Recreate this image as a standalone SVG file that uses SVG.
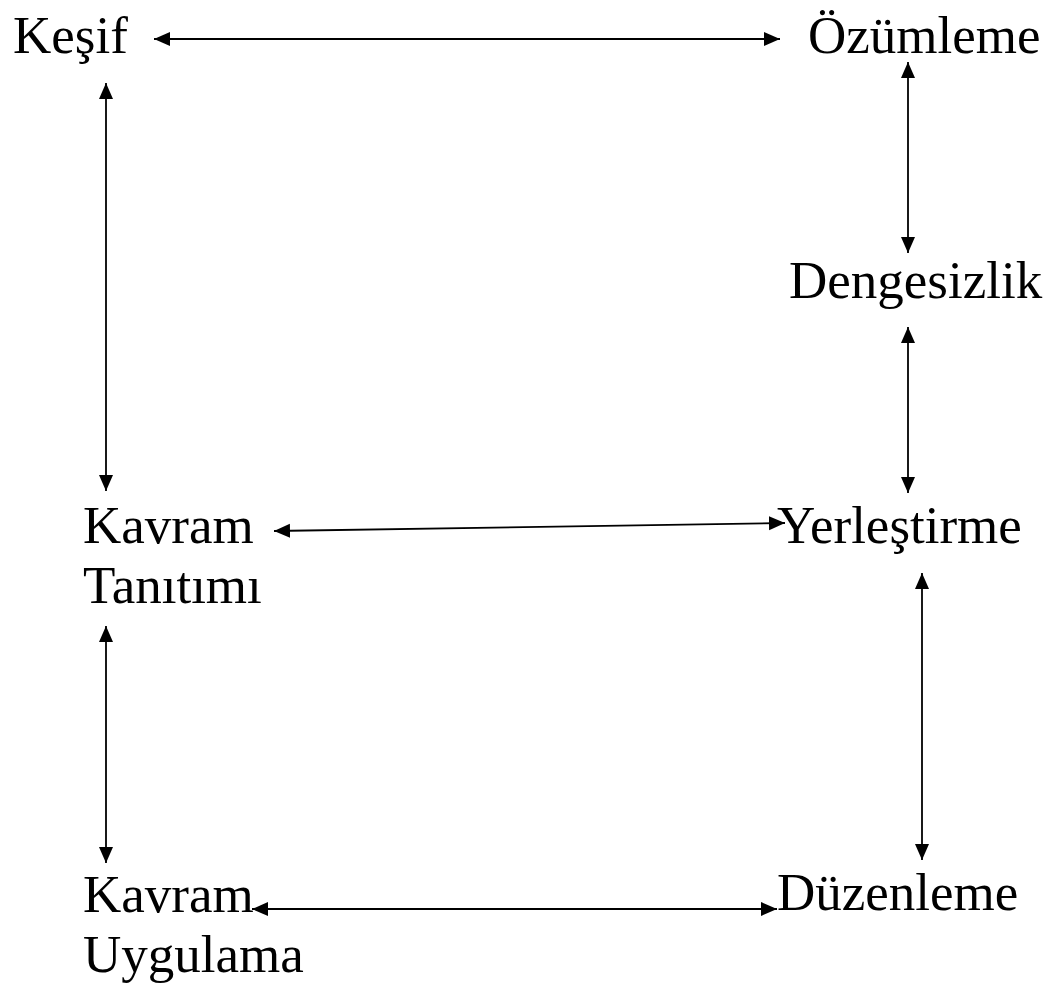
<svg xmlns="http://www.w3.org/2000/svg" width="1053" height="984" viewBox="0 0 1053 984">
  <style>
    .lbl { font-family: "Liberation Serif", "Times New Roman", serif; font-size: 53px; fill: #000; }
    .link { stroke: #000; stroke-width: 1.8; fill: none; marker-start: url(#head); marker-end: url(#head); }
  </style>
  <defs>
    <!-- filled triangular arrowhead shared by both ends of every connector -->
    <marker id="head" viewBox="0 0 16 16" refX="16" refY="8" markerWidth="16" markerHeight="16" markerUnits="userSpaceOnUse" orient="auto-start-reverse">
      <path d="M0,1 L16,8 L0,15 z" fill="#000"/>
    </marker>
  </defs>
  <rect width="1053" height="984" fill="#fff"/>

  <g id="kesif"><text class="lbl" x="13" y="53">Keşif</text></g>
  <g id="ozumleme"><text class="lbl" x="808" y="53">Özümleme</text></g>
  <g id="dengesizlik"><text class="lbl" x="789" y="298">Dengesizlik</text></g>
  <g id="kavram-tanitimi">
    <text class="lbl" x="83" y="543">Kavram</text>
    <text class="lbl" x="83" y="603">Tanıtımı</text>
  </g>
  <g id="yerlestirme"><text class="lbl" x="777" y="543">Yerleştirme</text></g>
  <g id="kavram-uygulama">
    <text class="lbl" x="83" y="912">Kavram</text>
    <text class="lbl" x="83" y="972">Uygulama</text>
  </g>
  <g id="duzenleme"><text class="lbl" x="777" y="910">Düzenleme</text></g>

  <g id="connectors">
    <line class="link" x1="154" y1="39" x2="780" y2="39"/>
    <line class="link" x1="106" y1="83" x2="106" y2="491"/>
    <line class="link" x1="908" y1="62" x2="908" y2="253"/>
    <line class="link" x1="908" y1="327" x2="908" y2="493"/>
    <line class="link" x1="274" y1="531" x2="785" y2="523"/>
    <line class="link" x1="106" y1="626" x2="106" y2="863"/>
    <line class="link" x1="922" y1="573" x2="922" y2="860"/>
    <line class="link" x1="252" y1="909" x2="777" y2="909"/>
  </g>
</svg>
